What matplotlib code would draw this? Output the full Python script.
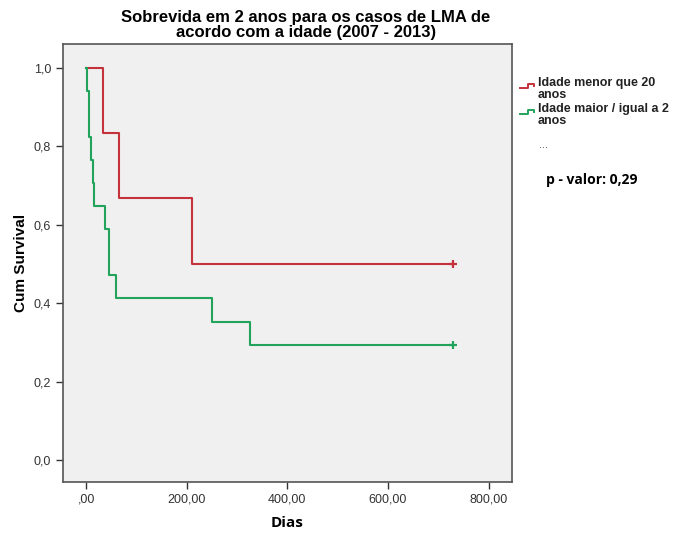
import numpy as np
import matplotlib.pyplot as plt
from matplotlib.lines import Line2D

# Kaplan-Meier steps (days, cumulative survival)
red_days = [0, 34, 65, 210, 730]
red_surv = [1.0, 0.833, 0.667, 0.5, 0.5]
green_days = [0, 1, 5, 10, 14, 16, 38, 45, 46, 60, 250, 326, 730]
green_surv = [1.0, 0.941, 0.824, 0.765, 0.706, 0.647, 0.588, 0.529,
              0.471, 0.412, 0.353, 0.294, 0.294]
censor_day = 730

labels = ["Idade menor que 20\nanos", "Idade maior / igual a 2\nanos"]
colors = ["#c5323b", "#22a35c"]
xticks = [0, 200, 400, 600, 800]
xtick_labels = [",00", "200,00", "400,00", "600,00", "800,00"]
yticks = [0.0, 0.2, 0.4, 0.6, 0.8, 1.0]
ytick_labels = ["0,0", "0,2", "0,4", "0,6", "0,8", "1,0"]

fig = plt.figure(figsize=(6.85, 5.35), dpi=100)
ax = fig.add_axes([0.092, 0.099, 0.655, 0.819])
ax.set_facecolor("#f0f0f0")

for days, surv, c in [(red_days, red_surv, colors[0]),
                      (green_days, green_surv, colors[1])]:
    ax.step(days, surv, where="post", color=c, lw=1.5)
    ax.plot([censor_day], [surv[-1]], marker="+", color=c, ms=6, mew=1.6)

ax.set_xlim(-46, 846)
ax.set_ylim(-0.056, 1.061)
ax.set_xticks(xticks)
ax.set_xticklabels(xtick_labels)
ax.set_yticks(yticks)
ax.set_yticklabels(ytick_labels)
ax.tick_params(direction="out", length=5, width=1, color="#333333",
               labelsize=9, labelcolor="#333333")
for lab in ax.get_xticklabels() + ax.get_yticklabels():
    lab.set_family("Liberation Sans")
for s in ax.spines.values():
    s.set_color("#555555")
    s.set_linewidth(1.2)

ax.set_xlabel("Dias", family="Open Sans", fontweight="bold", fontsize=11,
              labelpad=7)
ax.set_ylabel("Cum Survival", family="Liberation Sans", fontweight="bold",
              fontsize=11, labelpad=4)

fig.text(306 / 685, 1 - 25 / 535, "Sobrevida em 2 anos para os casos de LMA de\n"
         "acordo com a idade (2007 - 2013)", ha="center", va="center",
         family="Liberation Sans", fontweight="bold", fontsize=12,
         linespacing=0.95)

# legend with step icons
W, H = 685, 535
for i, (lab, c) in enumerate(zip(labels, colors)):
    y0 = 88 + i * 26
    xs = np.array([520, 528, 528, 534, 534]) / W
    ys = 1 - np.array([y0, y0, y0 - 4, y0 - 4, y0 - 2]) / H
    fig.add_artist(Line2D(xs, ys, color=c, lw=1.4))
    fig.text(538 / W, 1 - (y0 + 1) / H, lab, ha="left", va="center",
             family="Liberation Sans", fontweight="bold", fontsize=9,
             linespacing=1.0, color="#222222")
fig.text(539 / W, 1 - 145 / H, "...", fontsize=7, color="#555555",
         va="center")
fig.text(546 / W, 1 - 180 / H, "p - valor: 0,29", family="Open Sans",
         fontweight="bold", fontsize=10, va="center")

fig.savefig("out.png", dpi=100)
